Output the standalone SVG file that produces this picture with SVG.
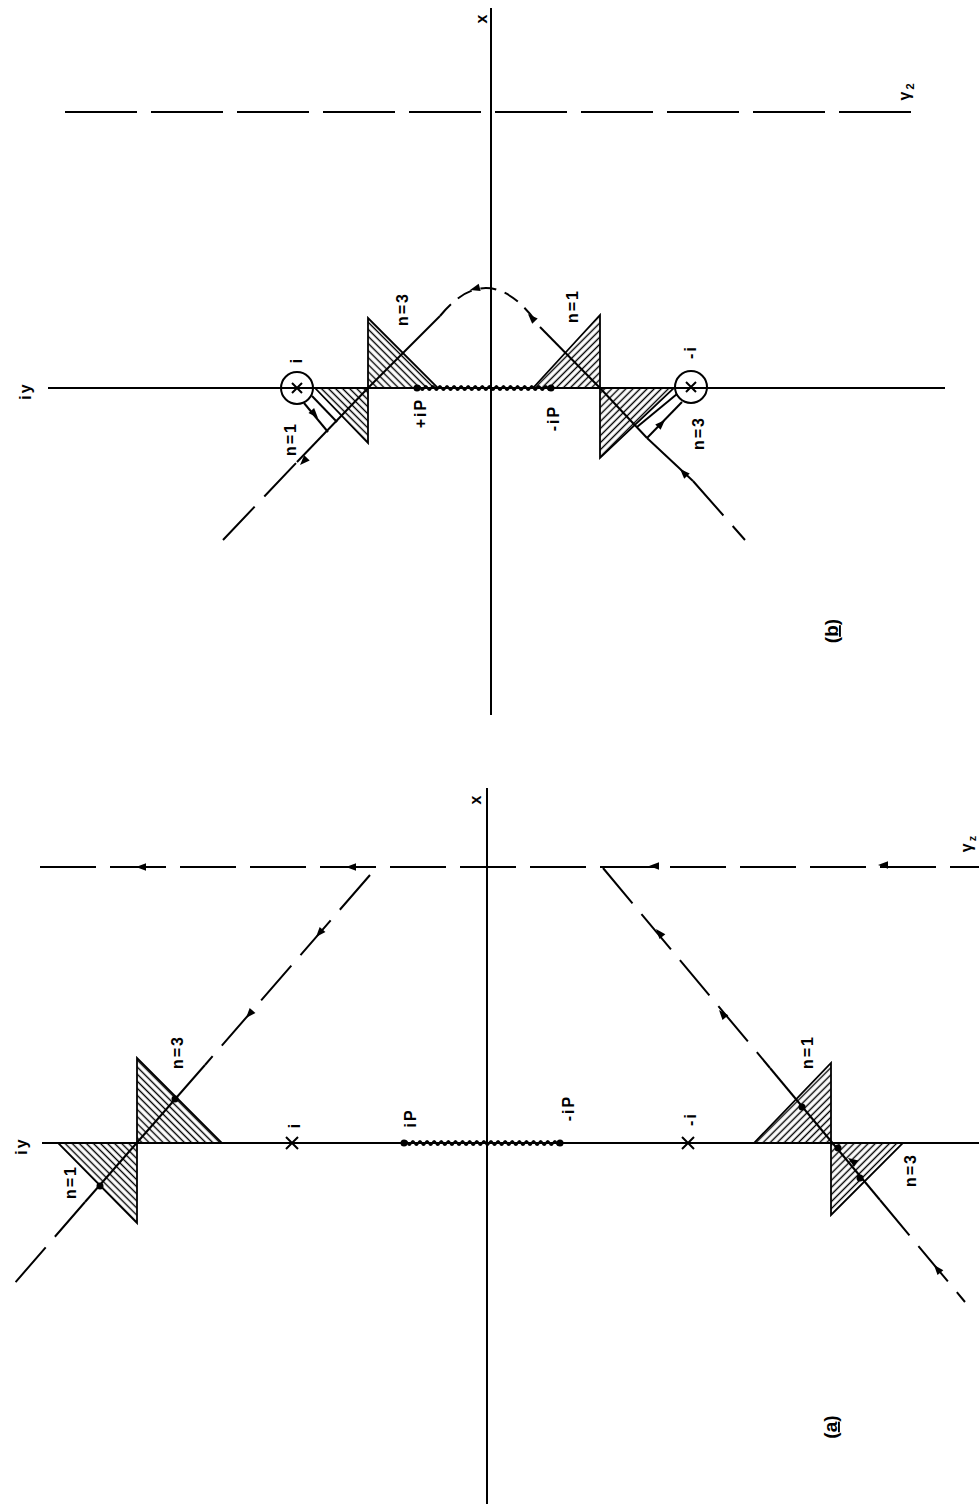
<svg xmlns="http://www.w3.org/2000/svg" xmlns:xlink="http://www.w3.org/1999/xlink" width="979" height="1504" viewBox="0 0 979 1504">
<style>
.ax{stroke:#000;stroke-width:2;fill:none}
.ln{stroke:#000;stroke-width:2;fill:none}
.dg{stroke:#000;stroke-width:2;fill:none;stroke-dasharray:46 14}
.dh{stroke:#000;stroke-width:2;fill:none;stroke-dasharray:72 14}
.da{stroke:#000;stroke-width:2;fill:none;stroke-dasharray:56 14}
.dc{stroke:#000;stroke-width:2;fill:none;stroke-dasharray:16 9}
.tb{stroke:#000;stroke-width:1.8;fill:url(#hb)}
.tf{stroke:#000;stroke-width:1.8;fill:url(#hf)}
.lbl{font-family:"Liberation Sans",Arial,sans-serif;font-size:16px;font-weight:bold;fill:#000;text-anchor:middle;letter-spacing:2px}
.cap{font-family:"Liberation Sans",Arial,sans-serif;font-size:19px;font-weight:bold;fill:#000;text-anchor:middle}
.zz{stroke:#000;stroke-width:2;fill:none}
.dot{fill:#000}
</style>
<defs>
<pattern id="hb" patternUnits="userSpaceOnUse" width="5" height="5" patternTransform="rotate(-45)">
<line x1="2.5" y1="0" x2="2.5" y2="5" stroke="#000" stroke-width="1.4"/>
</pattern>
<pattern id="hf" patternUnits="userSpaceOnUse" width="5" height="5" patternTransform="rotate(45)">
<line x1="2.5" y1="0" x2="2.5" y2="5" stroke="#000" stroke-width="1.4"/>
</pattern>
<path id="arr" d="M0,0 L-10,-3.8 L-10,3.8 Z" fill="#000"/>
</defs>

<!-- ================= Figure (b) ================= -->
<g id="fig-b">
<g id="b-axes">
<line class="ax" x1="491" y1="8" x2="491" y2="715"/>
<line class="ax" x1="48" y1="388" x2="945" y2="388"/>
<line class="dh" x1="65" y1="112" x2="920" y2="112"/>
</g>
<g id="b-tri-n3">
<polygon class="tb" points="368,318 368,388 438,388"/>
<polygon class="tb" points="315,388 368,388 368,443"/>
</g>
<g id="b-tri-n1">
<polygon class="tf" points="533,388 600,388 600,315"/>
<polygon class="tf" points="600,388 600,458 674,388"/>
</g>
<g id="b-cut">
<path class="zz" d="M417,388 q1.76,-4 3.53,0 t3.53,0 t3.53,0 t3.53,0 t3.53,0 t3.53,0 t3.53,0 t3.53,0 t3.53,0 t3.53,0 t3.53,0 t3.53,0 t3.53,0 t3.53,0 t3.53,0 t3.53,0 t3.53,0 t3.53,0 t3.53,0 t3.53,0 t3.53,0 t3.53,0 t3.53,0 t3.53,0 t3.53,0 t3.53,0 t3.53,0 t3.53,0 t3.53,0 t3.53,0 t3.53,0 t3.53,0 t3.53,0 t3.53,0 t3.53,0 t3.53,0 t3.53,0 t3.53,0"/>
<circle class="dot" cx="417" cy="388" r="3.5"/>
<circle class="dot" cx="551" cy="388" r="3.5"/>
</g>
<g id="b-pole-i">
<circle class="ln" cx="297" cy="388" r="16"/>
<path class="ln" d="M292,383 L302,393 M302,383 L292,393"/>
</g>
<g id="b-pole-mi">
<circle class="ln" cx="691" cy="387" r="16"/>
<path class="ln" d="M686,382 L696,392 M696,382 L686,392"/>
</g>
<g id="b-contour">
<line class="dg" x1="223" y1="540" x2="297" y2="462"/>
<line class="ln" x1="297" y1="462" x2="368" y2="388"/>
<line class="ln" x1="328" y1="432" x2="304" y2="403"/>
<line class="ln" x1="312" y1="396" x2="337" y2="422"/>
<line class="ln" x1="368" y1="388" x2="440" y2="316"/>
<path class="dc" d="M440,316 Q490,255 540,327"/>
<line class="ln" x1="540" y1="327" x2="600" y2="388"/>
<line class="ln" x1="600" y1="388" x2="647" y2="438"/>
<line class="ln" x1="647" y1="438" x2="682" y2="402"/>
<line class="ln" x1="677" y1="394" x2="637" y2="427"/>
<line class="ln" x1="647" y1="438" x2="693" y2="481"/>
<line class="dg" x1="693" y1="481" x2="745" y2="540"/>
<use xlink:href="#arr" transform="translate(300,465) rotate(134)"/>
<use xlink:href="#arr" transform="translate(318,418) rotate(48)"/>
<use xlink:href="#arr" transform="translate(470,290) rotate(165)"/>
<use xlink:href="#arr" transform="translate(528,314) rotate(226)"/>
<use xlink:href="#arr" transform="translate(665,420) rotate(315)"/>
<use xlink:href="#arr" transform="translate(680,469) rotate(226)"/>
</g>
<g id="b-labels">
<text class="lbl" transform="rotate(-90 487 18)" x="487" y="18">x</text>
<text class="lbl" transform="rotate(-90 31 391)" x="31" y="391">iy</text>
<text class="lbl" transform="rotate(-90 910 91)" x="910" y="91">γ<tspan dy="4" font-size="11">2</tspan></text>
<text class="lbl" transform="rotate(-90 408 309)" x="408" y="309">n=3</text>
<text class="lbl" transform="rotate(-90 302 360)" x="302" y="360">i</text>
<text class="lbl" transform="rotate(-90 578 306)" x="578" y="306">n=1</text>
<text class="lbl" transform="rotate(-90 696 352)" x="696" y="352">-i</text>
<text class="lbl" transform="rotate(-90 426 413)" x="426" y="413">+iP</text>
<text class="lbl" transform="rotate(-90 559 418)" x="559" y="418">-iP</text>
<text class="lbl" transform="rotate(-90 296 439)" x="296" y="439">n=1</text>
<text class="lbl" transform="rotate(-90 704 433)" x="704" y="433">n=3</text>
<text class="cap" transform="rotate(-90 838 631)" x="838" y="631">(<tspan text-decoration="underline">b</tspan>)</text>
</g>
</g>

<!-- ================= Figure (a) ================= -->
<g id="fig-a">
<g id="a-axes">
<line class="ax" x1="487" y1="788" x2="487" y2="1504"/>
<line class="ax" x1="42" y1="1143" x2="979" y2="1143"/>
<line class="da" x1="40" y1="867" x2="979" y2="867"/>
<use xlink:href="#arr" transform="translate(136,867) rotate(180)"/>
<use xlink:href="#arr" transform="translate(346,867) rotate(180)"/>
<use xlink:href="#arr" transform="translate(649,866) rotate(180)"/>
<use xlink:href="#arr" transform="translate(878,865) rotate(180)"/>
</g>
<g id="a-tri-left">
<polygon class="tb" points="137,1058 137,1143 222,1143"/>
<polygon class="tb" points="58,1143 137,1143 137,1223"/>
</g>
<g id="a-tri-right">
<polygon class="tf" points="754,1143 831,1143 831,1063"/>
<polygon class="tf" points="831,1143 831,1215 903,1143"/>
</g>
<g id="a-cut">
<path class="zz" d="M404,1143 q1.77,-4 3.55,0 t3.55,0 t3.55,0 t3.55,0 t3.55,0 t3.55,0 t3.55,0 t3.55,0 t3.55,0 t3.55,0 t3.55,0 t3.55,0 t3.55,0 t3.55,0 t3.55,0 t3.55,0 t3.55,0 t3.55,0 t3.55,0 t3.55,0 t3.55,0 t3.55,0 t3.55,0 t3.55,0 t3.55,0 t3.55,0 t3.55,0 t3.55,0 t3.55,0 t3.55,0 t3.55,0 t3.55,0 t3.55,0 t3.55,0 t3.55,0 t3.55,0 t3.55,0 t3.55,0 t3.55,0 t3.55,0 t3.55,0 t3.55,0 t3.55,0 t3.55,0"/>
<circle class="dot" cx="404" cy="1143" r="3.5"/>
<circle class="dot" cx="560" cy="1143" r="3.5"/>
</g>
<g id="a-poles">
<path class="ln" d="M286,1137 L298,1149 M298,1137 L286,1149"/>
<path class="ln" d="M682,1137 L694,1149 M694,1137 L682,1149"/>
</g>
<g id="a-contour">
<line class="dg" x1="370" y1="875" x2="205" y2="1065"/>
<line class="ln" x1="205" y1="1065" x2="85" y2="1202"/>
<line class="dg" x1="85" y1="1202" x2="7" y2="1292"/>
<circle class="dot" cx="175" cy="1099" r="3.5"/>
<circle class="dot" cx="100" cy="1186" r="3.5"/>
<use xlink:href="#arr" transform="translate(316,937) rotate(131)"/>
<use xlink:href="#arr" transform="translate(246,1018) rotate(131)"/>
<line class="dg" x1="603" y1="868" x2="770" y2="1068"/>
<line class="ln" x1="770" y1="1068" x2="880" y2="1200"/>
<line class="dg" x1="880" y1="1200" x2="965" y2="1302"/>
<circle class="dot" cx="802" cy="1107" r="3.5"/>
<circle class="dot" cx="860" cy="1178" r="3.5"/>
<circle class="dot" cx="838" cy="1148" r="3.5"/>
<use xlink:href="#arr" transform="translate(656,929) rotate(230)"/>
<use xlink:href="#arr" transform="translate(719,1010) rotate(230)"/>
<use xlink:href="#arr" transform="translate(848,1158) rotate(215)"/>
<use xlink:href="#arr" transform="translate(934,1265) rotate(230)"/>
</g>
<g id="a-labels">
<text class="lbl" transform="rotate(-90 481 799)" x="481" y="799">x</text>
<text class="lbl" transform="rotate(-90 27 1146)" x="27" y="1146">iy</text>
<text class="lbl" transform="rotate(-90 972 843)" x="972" y="843">γ<tspan dy="4" font-size="11">z</tspan></text>
<text class="lbl" transform="rotate(-90 183 1052)" x="183" y="1052">n=3</text>
<text class="lbl" transform="rotate(-90 76 1182)" x="76" y="1182">n=1</text>
<text class="lbl" transform="rotate(-90 300 1125)" x="300" y="1125">i</text>
<text class="lbl" transform="rotate(-90 416 1118)" x="416" y="1118">iP</text>
<text class="lbl" transform="rotate(-90 574 1108)" x="574" y="1108">-iP</text>
<text class="lbl" transform="rotate(-90 696 1119)" x="696" y="1119">-i</text>
<text class="lbl" transform="rotate(-90 813 1052)" x="813" y="1052">n=1</text>
<text class="lbl" transform="rotate(-90 916 1170)" x="916" y="1170">n=3</text>
<text class="cap" transform="rotate(-90 837 1427)" x="837" y="1427">(<tspan text-decoration="underline">a</tspan>)</text>
</g>
</g>
</svg>
